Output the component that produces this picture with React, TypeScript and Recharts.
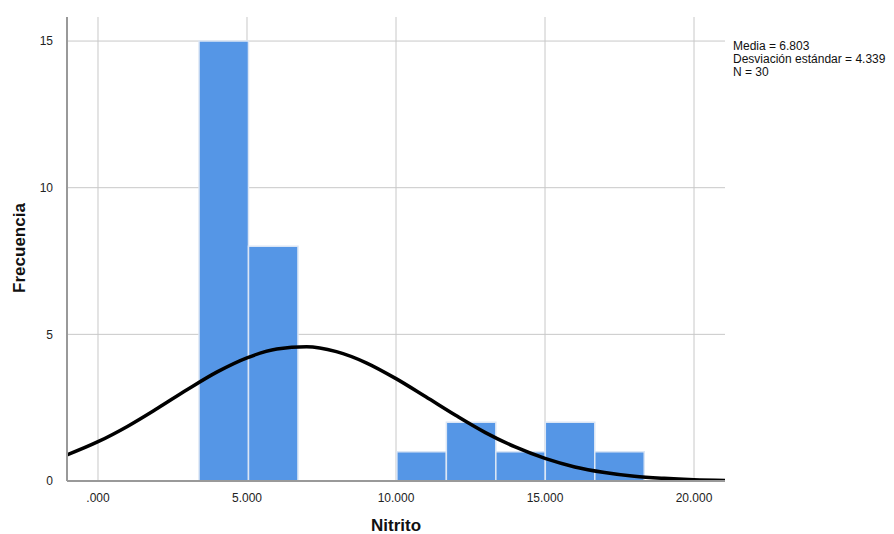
import { ComposedChart, Line, XAxis, YAxis, CartesianGrid, ReferenceArea } from 'recharts';

// histogram bins (Nitrito) and counts
const binStarts = [3.39, 5.05, 6.71, 8.37, 10.03, 11.69, 13.35, 15.01, 16.67];
const binEnds = [5.05, 6.71, 8.37, 10.03, 11.69, 13.35, 15.01, 16.67, 18.33];
const counts = [15, 8, 0, 0, 1, 2, 1, 2, 1];

// normal curve points
const curveX = [-1.04, 0, 1, 2, 3, 4, 5, 6, 7, 8, 9, 10, 11, 12, 13, 14, 15, 16, 17, 18, 19, 20, 21.04];
const curveY = [0.89, 1.34, 1.87, 2.48, 3.12, 3.72, 4.2, 4.5, 4.58, 4.41, 4.03, 3.49, 2.87, 2.24, 1.65, 1.16, 0.77, 0.48, 0.29, 0.16, 0.09, 0.045, 0.02];

const xTicks = [0, 5, 10, 15, 20];
const xTickLabels = ['.000', '5.000', '10.000', '15.000', '20.000'];
const yTicks = [0, 5, 10, 15];

const statsLines = ['Media = 6.803', 'Desviación estándar = 4.339', 'N = 30'];

const FONT = '"Liberation Sans", Arial, sans-serif';

export default function App() {
    const curve = curveX.map((x, i) => ({ x, y: curveY[i] }));

    return (
        <div style={{ position: 'relative', width: 894, height: 534, fontFamily: FONT, background: '#fff' }}>
            <style>{`body{margin:0}`}</style>
            <ComposedChart
                width={894}
                height={534}
                data={curve}
                margin={{ top: 17, right: 169, bottom: 0, left: 0 }}
            >
                {/* grid only at the tick values, no frame on top/right */}
                <CartesianGrid
                    stroke="#c8c8c8"
                    strokeWidth={1}
                    horizontalValues={yTicks}
                    verticalValues={xTicks}
                />
                <XAxis
                    dataKey="x"
                    type="number"
                    domain={[-1.04, 21.04]}
                    ticks={xTicks}
                    tickFormatter={(v) => xTickLabels[xTicks.indexOf(v)]}
                    allowDataOverflow
                    height={53}
                    stroke="#999"
                    strokeWidth={2}
                    tickLine={false}
                    tick={{ fill: '#222', fontSize: 12, fontFamily: FONT }}
                    tickMargin={6}
                />
                <YAxis
                    type="number"
                    domain={[0, 15.82]}
                    ticks={yTicks}
                    allowDataOverflow
                    width={67}
                    stroke="#999"
                    strokeWidth={2}
                    tickLine={false}
                    tick={{ fill: '#222', fontSize: 12, fontFamily: FONT }}
                    tickMargin={8}
                />
                {counts.map((c, i) =>
                    c > 0 ? (
                        <ReferenceArea
                            key={i}
                            x1={binStarts[i]}
                            x2={binEnds[i]}
                            y1={0}
                            y2={c}
                            fill="#5596e6"
                            fillOpacity={1}
                            stroke="#dbe6f5"
                            strokeWidth={1.5}
                            ifOverflow="hidden"
                        />
                    ) : null
                )}
                <Line
                    type="monotone"
                    dataKey="y"
                    stroke="#000"
                    strokeWidth={3.5}
                    dot={false}
                    activeDot={false}
                    isAnimationActive={false}
                />
            </ComposedChart>

            <div style={{ position: 'absolute', left: 733, top: 40, fontSize: 12, lineHeight: '13px', color: '#111' }}>
                {statsLines.map((s) => (
                    <div key={s}>{s}</div>
                ))}
            </div>
            <div
                style={{
                    position: 'absolute',
                    left: 20,
                    top: 248,
                    transform: 'translate(-50%, -50%) rotate(-90deg)',
                    fontSize: 17,
                    fontWeight: 'bold',
                    color: '#111',
                    whiteSpace: 'nowrap',
                }}
            >
                Frecuencia
            </div>
            <div
                style={{
                    position: 'absolute',
                    left: 396,
                    top: 526,
                    transform: 'translate(-50%, -50%)',
                    fontSize: 17,
                    fontWeight: 'bold',
                    color: '#111',
                }}
            >
                Nitrito
            </div>
        </div>
    );
}
